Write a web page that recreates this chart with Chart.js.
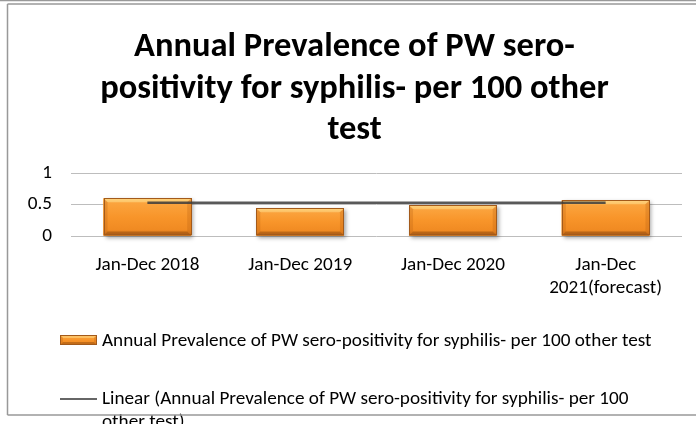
<!DOCTYPE html>
<html>
<head>
<meta charset="utf-8">
<script src="https://cdn.jsdelivr.net/npm/chart.js@4.4.1/dist/chart.umd.min.js"></script>
<style>
  html, body { margin: 0; padding: 0; background: #fff; }
  #wrap { position: relative; width: 696px; height: 424px; overflow: hidden; }
</style>
</head>
<body>
<div id="wrap"><canvas id="c" width="696" height="424"></canvas></div>
<script>
// ---- data ----
const categories = ['Jan-Dec 2018', 'Jan-Dec 2019', 'Jan-Dec 2020', ['Jan-Dec', '2021(forecast)']];
const prevalence = [0.60, 0.44, 0.49, 0.57];
const trend = [0.53, 0.53, 0.53, 0.53];
const yTicks = [0, 0.5, 1];
const yTickLabels = ['0', '0.5', '1'];
const titleLines = ['Annual Prevalence of PW sero-', 'positivity for syphilis- per 100 other', 'test'];
const seriesLabel = 'Annual Prevalence of PW sero-positivity for syphilis- per 100 other test';
const trendLabelLines = ['Linear (Annual Prevalence of PW sero-positivity for syphilis- per 100', 'other test)'];

const FONT = "Carlito, 'Liberation Sans', sans-serif";

function bevelRect(ctx, l, t, w, h, e) {
  const g = ctx.createLinearGradient(0, t, 0, t + h);
  g.addColorStop(0, '#FFC46A');
  g.addColorStop(0.12, '#FBA43E');
  g.addColorStop(0.5, '#F8952A');
  g.addColorStop(0.85, '#F08A22');
  g.addColorStop(1, '#C46A1C');
  ctx.fillStyle = g;
  ctx.fillRect(l, t, w, h);
  e = Math.min(e, h / 3, w / 3);
  ctx.fillStyle = 'rgba(255,230,150,0.45)';
  ctx.beginPath(); ctx.moveTo(l, t); ctx.lineTo(l + w, t); ctx.lineTo(l + w - e, t + e); ctx.lineTo(l + e, t + e); ctx.closePath(); ctx.fill();
  ctx.fillStyle = 'rgba(140,70,10,0.45)';
  ctx.beginPath(); ctx.moveTo(l, t + h); ctx.lineTo(l + w, t + h); ctx.lineTo(l + w - e, t + h - e); ctx.lineTo(l + e, t + h - e); ctx.closePath(); ctx.fill();
  ctx.fillStyle = 'rgba(190,100,20,0.30)';
  ctx.beginPath(); ctx.moveTo(l, t); ctx.lineTo(l + e, t + e); ctx.lineTo(l + e, t + h - e); ctx.lineTo(l, t + h); ctx.closePath(); ctx.fill();
  ctx.beginPath(); ctx.moveTo(l + w, t); ctx.lineTo(l + w - e, t + e); ctx.lineTo(l + w - e, t + h - e); ctx.lineTo(l + w, t + h); ctx.closePath(); ctx.fill();
  ctx.strokeStyle = '#A35A1A';
  ctx.lineWidth = 1;
  ctx.strokeRect(Math.round(l) + 0.5, Math.round(t) + 0.5, Math.round(w) - 1, Math.round(h) - 1);
}

const barStyle = {
  id: 'barStyle',
  beforeDatasetDraw(chart, args) {
    if (args.index !== 0) return;
    const ctx = chart.ctx;
    ctx.save();
    chart.getDatasetMeta(0).data.forEach(b => {
      const l = b.x - b.width / 2, t = b.y, w = b.width, h = b.base - b.y;
      ctx.shadowColor = 'rgba(0,0,0,0.35)'; ctx.shadowBlur = 4; ctx.shadowOffsetX = 2; ctx.shadowOffsetY = 2;
      ctx.fillStyle = '#F7931E'; ctx.fillRect(l, t, w, h);
    });
    ctx.restore();
  },
  afterDatasetDraw(chart, args) {
    if (args.index !== 0) return;
    const ctx = chart.ctx;
    ctx.save();
    chart.getDatasetMeta(0).data.forEach(b => {
      bevelRect(ctx, b.x - b.width / 2, b.y, b.width, b.base - b.y, 4);
    });
    ctx.restore();
  }
};

const legendAndFrame = {
  id: 'legendAndFrame',
  afterDraw(chart) {
    const ctx = chart.ctx, ca = chart.chartArea;
    ctx.save();
    ctx.font = `19.2px ${FONT}`;
    ctx.fillStyle = '#000';
    ctx.textBaseline = 'alphabetic';
    ctx.textAlign = 'left';
    const x0 = 60, sw = 37, tx = 102;
    const y1 = ca.bottom + 104;
    bevelRect(ctx, x0, y1 - 5, sw, 10, 3);
    ctx.fillStyle = '#000';
    ctx.fillText(chart.data.datasets[0].label, tx, ca.bottom + 109.7);
    const y2 = ca.bottom + 163;
    ctx.strokeStyle = '#333'; ctx.lineWidth = 1.3;
    ctx.beginPath(); ctx.moveTo(x0, y2); ctx.lineTo(x0 + sw, y2); ctx.stroke();
    trendLabelLines.forEach((s, i) => ctx.fillText(s, tx, ca.bottom + 168 + i * 23));
    ctx.strokeStyle = '#999'; ctx.lineWidth = 1.5;
    ctx.beginPath(); ctx.moveTo(0, 0.5); ctx.lineTo(696, 0.5); ctx.stroke();
    ctx.beginPath(); ctx.moveTo(7.5, 4); ctx.lineTo(696, 4); ctx.stroke();
    ctx.beginPath(); ctx.moveTo(7.5, 4); ctx.lineTo(7.5, 415); ctx.stroke();
    ctx.beginPath(); ctx.moveTo(7.5, 415); ctx.lineTo(696, 415); ctx.stroke();
    ctx.restore();
  }
};

new Chart(document.getElementById('c'), {
  data: {
    labels: categories,
    datasets: [
      { type: 'bar', label: seriesLabel, data: prevalence, backgroundColor: '#F7931E', borderWidth: 0,
        categoryPercentage: 1, barPercentage: 0.574, order: 1 },
      { type: 'line', label: trendLabelLines.join(' '), data: trend, borderColor: 'rgba(60,60,60,0.85)', borderWidth: 2.5,
        pointRadius: 0, fill: false, order: 0 }
    ]
  },
  options: {
    responsive: false,
    animation: false,
    devicePixelRatio: 1,
    layout: { padding: { left: 27, right: 14, top: 0, bottom: 118 } },
    plugins: {
      legend: { display: false },
      tooltip: { enabled: false },
      title: {
        display: true, text: titleLines, color: '#000',
        font: { family: FONT, size: 34.5, weight: 'bold', lineHeight: 1.2 },
        padding: { top: 27, bottom: 22 }
      }
    },
    scales: {
      x: {
        grid: { display: false, drawTicks: false },
        border: { display: false },
        ticks: { color: '#000', font: { family: FONT, size: 19.2, lineHeight: 1.2 }, padding: 18, maxRotation: 0, autoSkip: false },
        afterFit(s) { s.height = 70; }
      },
      y: {
        min: 0, max: 1,
        afterBuildTicks(s) { s.ticks = yTicks.map(v => ({ value: v })); },
        grid: { color: '#BDBDBD', lineWidth: 1, drawTicks: false },
        border: { display: false },
        ticks: { color: '#000', font: { family: FONT, size: 19.2 }, padding: 19,
          callback: (v) => yTickLabels[yTicks.indexOf(v)] },
        afterFit(s) { s.width = 44; }
      }
    }
  },
  plugins: [barStyle, legendAndFrame]
});
</script>
</body>
</html>
